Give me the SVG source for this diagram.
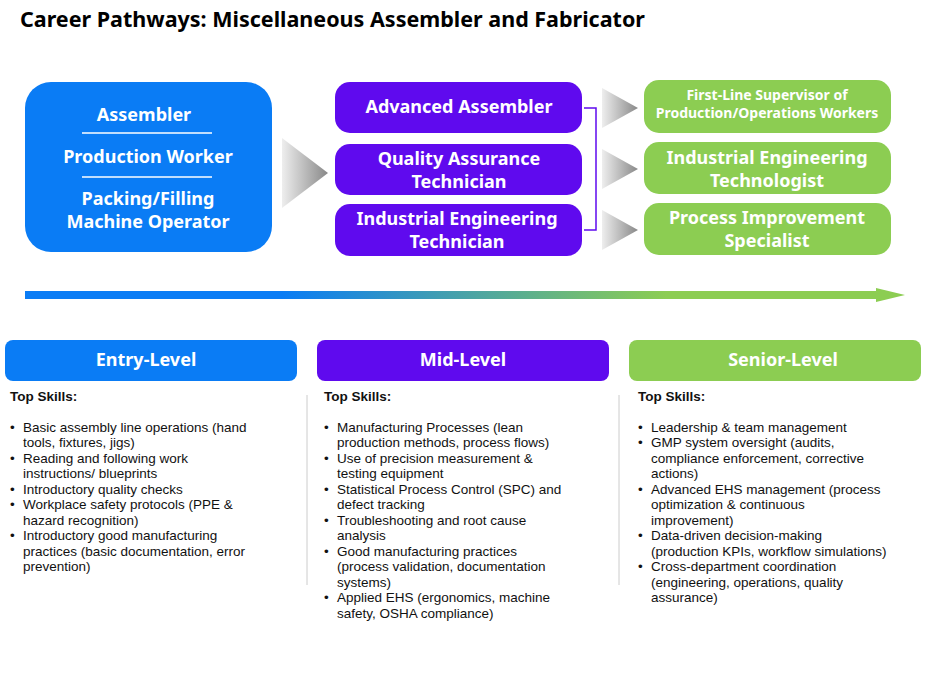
<svg xmlns="http://www.w3.org/2000/svg" width="930" height="678" viewBox="0 0 930 678">
<style>
text{font-family:"Noto Sans","Liberation Sans",sans-serif}
.t{font-size:21.5px;font-weight:bold}
.w{fill:#fff;font-weight:bold;text-anchor:middle}
.b{font-size:18px}
.g{font-size:14px}
.h{font-size:13px;font-weight:bold}
.s text{font-family:"Liberation Sans",Arial,sans-serif;font-size:13.5px;fill:#111}
.s text.w{font-family:"Noto Sans","Liberation Sans",sans-serif;font-size:18px;fill:#fff}
.dv{stroke:#fff;stroke-width:1.5}
</style>
<defs>
<linearGradient id="cg" x1="0" x2="1"><stop offset="0" stop-color="#eee"/><stop offset="1" stop-color="#888"/></linearGradient>
<linearGradient id="ag" x1="0" x2="1"><stop offset="0" stop-color="#0A7CF5"/><stop offset="0.3" stop-color="#0A7CF5"/><stop offset="0.75" stop-color="#8CCD52"/><stop offset="1" stop-color="#8CCD52"/></linearGradient>
</defs>
<text x="20" y="27" class="t">Career Pathways: Miscellaneous Assembler and Fabricator</text>
<g id="entry-roles">
<rect x="25" y="82" width="247" height="170" rx="26" fill="#0A7CF5"/>
<text class="w b" x="144" y="121">Assembler</text>
<line class="dv" x1="82" y1="133" x2="212" y2="133"/>
<text class="w b" x="148" y="163">Production Worker</text>
<line class="dv" x1="82" y1="177" x2="212" y2="177"/>
<text class="w b" x="148" y="205">Packing/Filling</text>
<text class="w b" x="148" y="228">Machine Operator</text>
</g>
<g id="connectors">
<path d="M282 138 L328 173 L282 208 Z" fill="url(#cg)"/>
<path d="M584 108 H596 V230 H584" fill="none" stroke="#5F0AEE" stroke-width="1.5"/>
<path d="M602 88 L638 108 L602 128 Z" fill="url(#cg)"/>
<path d="M602 149 L638 169 L602 189 Z" fill="url(#cg)"/>
<path d="M602 210 L638 230 L602 250 Z" fill="url(#cg)"/>
<rect x="25" y="291" width="855" height="8" fill="url(#ag)"/>
<path d="M876 288 L905 295 L876 302 Z" fill="#8CCD52"/>
</g>
<g id="mid-roles">
<rect x="335" y="82" width="247" height="51" rx="15" fill="#5F0AEE"/>
<text class="w b" x="459" y="113">Advanced Assembler</text>
<rect x="335" y="144" width="247" height="51" rx="15" fill="#5F0AEE"/>
<text class="w b" x="459" y="165">Quality Assurance</text>
<text class="w b" x="459" y="188">Technician</text>
<rect x="335" y="204" width="247" height="52" rx="15" fill="#5F0AEE"/>
<text class="w b" x="457" y="225">Industrial Engineering</text>
<text class="w b" x="457" y="248">Technician</text>
</g>
<g id="senior-roles">
<rect x="644" y="80" width="247" height="53" rx="15" fill="#8CCD52"/>
<text class="w g" x="767" y="100">First-Line Supervisor of</text>
<text class="w g" x="767" y="118">Production/Operations Workers</text>
<rect x="644" y="142" width="247" height="52" rx="15" fill="#8CCD52"/>
<text class="w b" x="767" y="164">Industrial Engineering</text>
<text class="w b" x="767" y="187">Technologist</text>
<rect x="644" y="203" width="247" height="52" rx="15" fill="#8CCD52"/>
<text class="w b" x="767" y="224">Process Improvement</text>
<text class="w b" x="767" y="247">Specialist</text>
</g>
<line x1="307" y1="395" x2="307" y2="585" stroke="#ccc"/>
<line x1="619" y1="395" x2="619" y2="585" stroke="#ccc"/>
<g id="entry-level" class="s">
<rect x="5" y="340" width="292" height="41" rx="8" fill="#0A7CF5"/>
<text class="w b" x="146" y="366">Entry-Level</text>
<text class="h" x="10" y="401">Top Skills:</text>
<text x="10" y="432">•</text><text x="23" y="432">Basic assembly line operations (hand</text>
<text x="23" y="447">tools, fixtures, jigs)</text>
<text x="10" y="463">•</text><text x="23" y="463">Reading and following work</text>
<text x="23" y="478">instructions/ blueprints</text>
<text x="10" y="494">•</text><text x="23" y="494">Introductory quality checks</text>
<text x="10" y="509">•</text><text x="23" y="509">Workplace safety protocols (PPE &amp;</text>
<text x="23" y="525">hazard recognition)</text>
<text x="10" y="540">•</text><text x="23" y="540">Introductory good manufacturing</text>
<text x="23" y="556">practices (basic documentation, error</text>
<text x="23" y="571">prevention)</text>
</g>
<g id="mid-level" class="s">
<rect x="317" y="340" width="292" height="41" rx="8" fill="#5F0AEE"/>
<text class="w b" x="463" y="366">Mid-Level</text>
<text class="h" x="324" y="401">Top Skills:</text>
<text x="324" y="432">•</text><text x="337" y="432">Manufacturing Processes (lean</text>
<text x="337" y="447">production methods, process flows)</text>
<text x="324" y="463">•</text><text x="337" y="463">Use of precision measurement &amp;</text>
<text x="337" y="478">testing equipment</text>
<text x="324" y="494">•</text><text x="337" y="494">Statistical Process Control (SPC) and</text>
<text x="337" y="509">defect tracking</text>
<text x="324" y="525">•</text><text x="337" y="525">Troubleshooting and root cause</text>
<text x="337" y="540">analysis</text>
<text x="324" y="556">•</text><text x="337" y="556">Good manufacturing practices</text>
<text x="337" y="571">(process validation, documentation</text>
<text x="337" y="587">systems)</text>
<text x="324" y="602">•</text><text x="337" y="602">Applied EHS (ergonomics, machine</text>
<text x="337" y="618">safety, OSHA compliance)</text>
</g>
<g id="senior-level" class="s">
<rect x="629" y="340" width="292" height="41" rx="8" fill="#8CCD52"/>
<text class="w b" x="783" y="366">Senior-Level</text>
<text class="h" x="638" y="401">Top Skills:</text>
<text x="638" y="432">•</text><text x="651" y="432">Leadership &amp; team management</text>
<text x="638" y="447">•</text><text x="651" y="447">GMP system oversight (audits,</text>
<text x="651" y="463">compliance enforcement, corrective</text>
<text x="651" y="478">actions)</text>
<text x="638" y="494">•</text><text x="651" y="494">Advanced EHS management (process</text>
<text x="651" y="509">optimization &amp; continuous</text>
<text x="651" y="525">improvement)</text>
<text x="638" y="540">•</text><text x="651" y="540">Data-driven decision-making</text>
<text x="651" y="556">(production KPIs, workflow simulations)</text>
<text x="638" y="571">•</text><text x="651" y="571">Cross-department coordination</text>
<text x="651" y="587">(engineering, operations, quality</text>
<text x="651" y="602">assurance)</text>
</g>
</svg>
